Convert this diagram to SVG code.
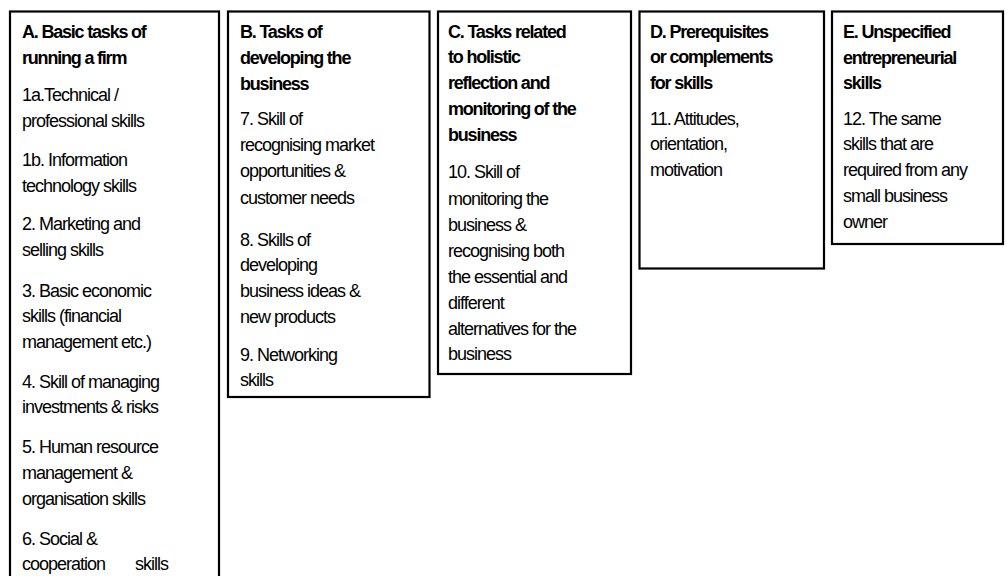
<svg xmlns="http://www.w3.org/2000/svg" width="1007" height="576" viewBox="0 0 1007 576">
<style>
.box{fill:#fff;stroke:#000;stroke-width:2.2}
text{font-family:"Liberation Sans",Arial,sans-serif;font-size:18px;fill:#000;letter-spacing:-1px}
.t{font-weight:bold;letter-spacing:-1.2px}
</style>
<rect width="1007" height="576" fill="#fff"/>
<g id="nodeA">
<rect class="box" x="10" y="11.5" width="209" height="580"/>
<text class="t" x="22" y="38">A. Basic tasks of</text>
<text class="t" x="22" y="64">running a firm</text>
<text x="22" y="101">1a.Technical /</text>
<text x="22" y="127">professional skills</text>
<text x="22" y="166">1b. Information</text>
<text x="22" y="192">technology skills</text>
<text x="22" y="230">2. Marketing and</text>
<text x="22" y="256">selling skills</text>
<text x="22" y="297">3. Basic economic</text>
<text x="22" y="322">skills (financial</text>
<text x="22" y="348">management etc.)</text>
<text x="22" y="388">4. Skill of managing</text>
<text x="22" y="413">investments &amp; risks</text>
<text x="22" y="453">5. Human resource</text>
<text x="22" y="479">management &amp;</text>
<text x="22" y="505">organisation skills</text>
<text x="22" y="545">6. Social &amp;</text>
<text x="22" y="570">cooperation</text>
<text x="135" y="570">skills</text>
</g>
<g id="nodeB">
<rect class="box" x="228" y="11.5" width="201.5" height="385.5"/>
<text class="t" x="240" y="38">B. Tasks of</text>
<text class="t" x="240" y="64">developing the</text>
<text class="t" x="240" y="90">business</text>
<text x="240" y="125">7. Skill of</text>
<text x="240" y="151">recognising market</text>
<text x="240" y="177">opportunities &amp;</text>
<text x="240" y="204">customer needs</text>
<text x="240" y="246">8. Skills of</text>
<text x="240" y="271">developing</text>
<text x="240" y="297">business ideas &amp;</text>
<text x="240" y="323">new products</text>
<text x="240" y="361">9. Networking</text>
<text x="240" y="386">skills</text>
</g>
<g id="nodeC">
<rect class="box" x="438" y="11.5" width="193" height="362.5"/>
<text class="t" x="448" y="38">C. Tasks related</text>
<text class="t" x="448" y="63">to holistic</text>
<text class="t" x="448" y="89">reflection and</text>
<text class="t" x="448" y="115">monitoring of the</text>
<text class="t" x="448" y="141">business</text>
<text x="448" y="178">10. Skill of</text>
<text x="448" y="205">monitoring the</text>
<text x="448" y="231">business &amp;</text>
<text x="448" y="257">recognising both</text>
<text x="448" y="283">the essential and</text>
<text x="448" y="309">different</text>
<text x="448" y="335">alternatives for the</text>
<text x="448" y="360">business</text>
</g>
<g id="nodeD">
<rect class="box" x="639.5" y="11.5" width="184.5" height="257"/>
<text class="t" x="650" y="38">D. Prerequisites</text>
<text class="t" x="650" y="63">or complements</text>
<text class="t" x="650" y="89">for skills</text>
<text x="650" y="125">11. Attitudes,</text>
<text x="650" y="150">orientation,</text>
<text x="650" y="176">motivation</text>
</g>
<g id="nodeE">
<rect class="box" x="832" y="11.5" width="171" height="232.5"/>
<text class="t" x="843" y="38">E. Unspecified</text>
<text class="t" x="843" y="64">entrepreneurial</text>
<text class="t" x="843" y="89">skills</text>
<text x="843" y="125">12. The same</text>
<text x="843" y="150">skills that are</text>
<text x="843" y="176">required from any</text>
<text x="843" y="202">small business</text>
<text x="843" y="228">owner</text>
</g>
<g id="connectors"></g>
</svg>
